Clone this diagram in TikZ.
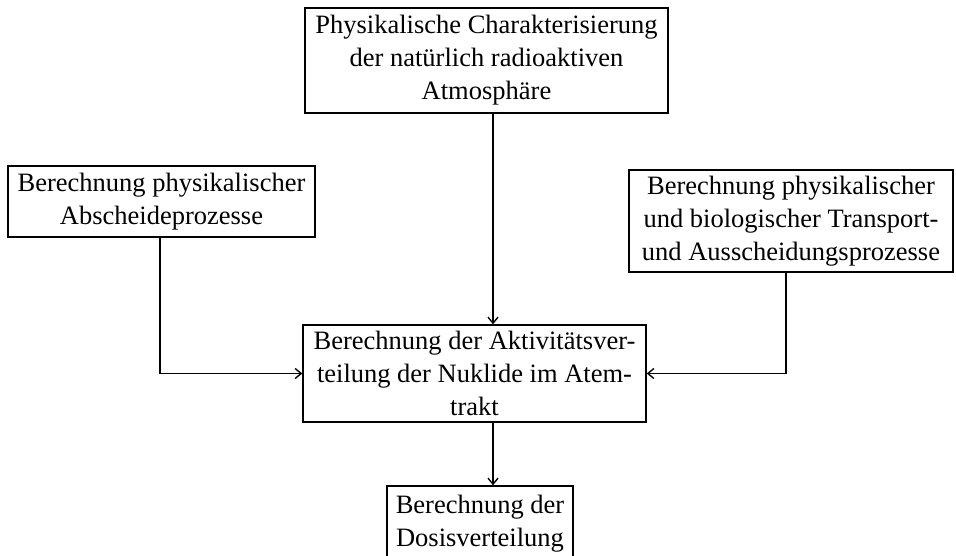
\documentclass[tikz,border=0pt]{standalone}
\usepackage{fontspec}
\setmainfont{Liberation Serif}
\usetikzlibrary{arrows.meta}
\tikzset{
  flowbox/.style={draw, line width=1.5pt, inner sep=0pt, align=center,
    font=\fontsize{26.5}{33}\selectfont},
  arr/.style={line width=1.5pt, -{Straight Barb[length=6pt,width=10pt,line width=1.4pt]}}
}
\begin{document}
\begin{tikzpicture}[x=1pt,y=-1pt]
\useasboundingbox (0,0) rectangle (956,556);
\node[flowbox, minimum width=363pt, minimum height=105pt] (top) at (486.5,60.5)
  {Physikalische Charakterisierung\\der natürlich radioaktiven\\Atmosphäre};
\node[flowbox, minimum width=307pt, minimum height=71pt] (left) at (161.5,201.5)
  {Berechnung physikalischer\\Abscheideprozesse};
\node[flowbox, minimum width=324pt, minimum height=102pt] (right) at (791,221)
  {Berechnung physikalischer\\und biologischer Transport-\\und Ausscheidungsprozesse};
\node[flowbox, minimum width=343pt, minimum height=97pt] (mid) at (474.5,373.5)
  {Berechnung der Aktivitätsver-\\teilung der Nuklide im Atem-\\trakt};
\node[flowbox, minimum width=186pt, minimum height=76pt] (bot) at (480,524)
  {Berechnung der\\Dosisverteilung};
\coordinate (cx) at (493,0);
\coordinate (lx) at (160,0);
\coordinate (rx) at (786,0);
\draw[arr] (top.south -| cx) -- (mid.north -| cx);
\draw[arr] (left.south -| lx) |- (mid.west);
\draw[arr] (right.south -| rx) |- (mid.east);
\draw[arr] (mid.south -| cx) -- (bot.north -| cx);
\end{tikzpicture}
\end{document}
